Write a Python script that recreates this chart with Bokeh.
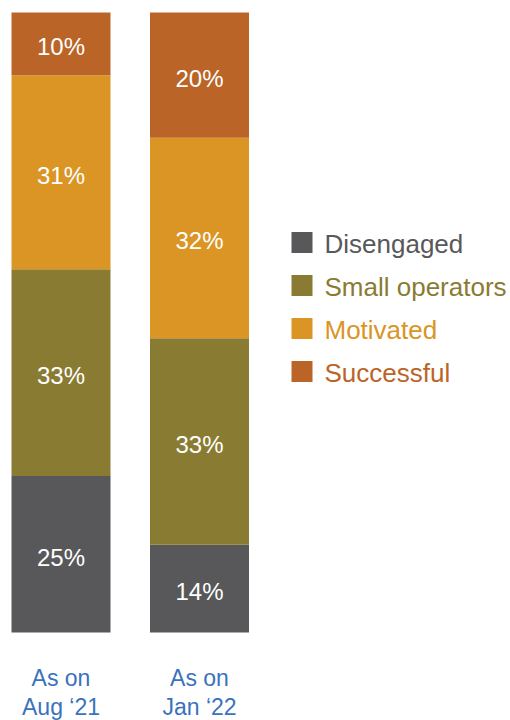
import numpy as np
from bokeh.plotting import figure
from bokeh.models import Range1d, ColumnDataSource
from bokeh.core.properties import value
from bokeh.embed import file_html
from bokeh.resources import INLINE

categories = ["As on\nAug \u201821", "As on\nJan \u201822"]
series = ["Disengaged", "Small operators", "Motivated", "Successful"]
disengaged = [25, 14]
small_operators = [33, 33]
motivated = [31, 32]
successful = [10, 20]
colors = ["#58585a", "#8a7b32", "#da9524", "#bb6428"]
FONT = "Liberation Sans"

values = [disengaged, small_operators, motivated, successful]

W, H = 510, 720
# pixel layout
bar_bottom_px, bar_top_px = 632, 12
total = 99.0
scale = (bar_bottom_px - bar_top_px) / total
y0 = -(H - bar_bottom_px) / scale
y1 = y0 + H / scale
step_px = 138.5
first_center_px = 60.5
x0 = -first_center_px / step_px
x1 = x0 + W / step_px

def px_to_y(py):
    return y0 + (H - py) / scale

def px_to_x(px):
    return x0 + px / step_px

p = figure(width=W, height=H, output_backend="svg", toolbar_location=None,
           x_range=Range1d(x0, x1), y_range=Range1d(y0, y1),
           min_border=0, outline_line_color=None)
p.axis.visible = False
p.grid.visible = False
p.background_fill_color = "white"
p.border_fill_color = "white"

xs = np.arange(len(categories))
bar_w = 99 / step_px
bottom = np.zeros(len(categories))
lx, ly, lt = [], [], []
for vals, col in zip(values, colors):
    v = np.array(vals, dtype=float)
    p.vbar(x=xs, bottom=bottom, top=bottom + v, width=bar_w, fill_color=col, line_color=None)
    for i in range(len(xs)):
        lx.append(xs[i]); ly.append(bottom[i] + v[i] / 2); lt.append(f"{vals[i]}%")
    bottom = bottom + v

p.text(x="x", y="y", text="t", source=ColumnDataSource(dict(x=lx, y=ly, t=lt)),
       text_color="white", text_font=value(FONT), text_font_size="24px",
       text_align="center", text_baseline="middle", y_offset=3)

# category labels
p.text(x=list(xs), y=[px_to_y(692)] * len(xs), text=categories,
       text_color="#3a72bd", text_font=value(FONT), text_font_size="23px",
       text_align="center", text_baseline="middle", text_line_height=1.1)

# legend
leg_y = [px_to_y(242 + 43 * i) for i in range(len(series))]
p.rect(x=[px_to_x(301.5)] * len(series), y=leg_y, width=21, height=21,
       width_units="screen", height_units="screen", fill_color=colors, line_color=None)
p.text(x=[px_to_x(324)] * len(series), y=leg_y, text=series, text_color=colors,
       text_font=value(FONT), text_font_size="26px", text_align="left",
       text_baseline="middle", y_offset=1)

open("out.html", "w").write(file_html(p, INLINE))
